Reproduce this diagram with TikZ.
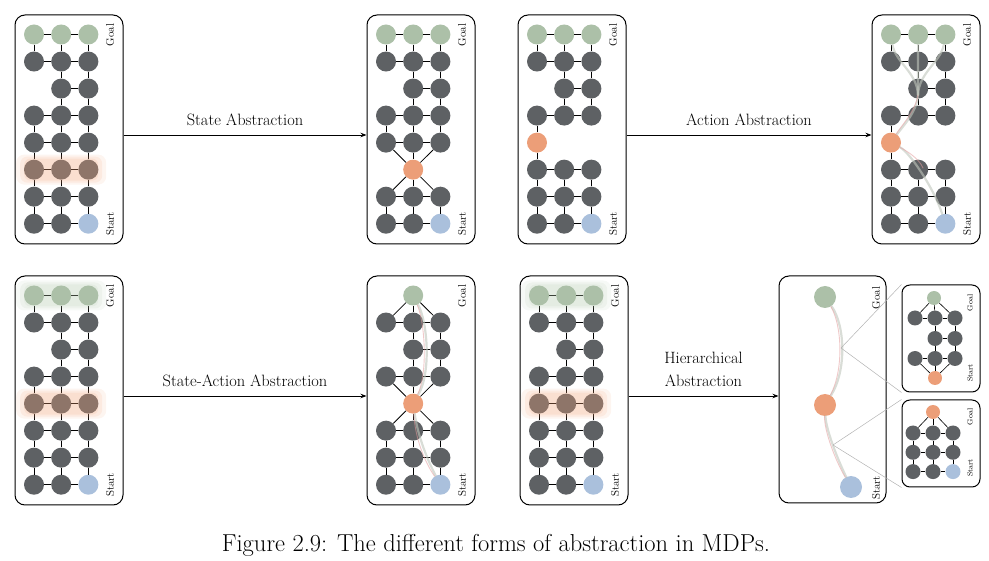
\documentclass[tikz,border=0pt]{standalone}
\usetikzlibrary{arrows.meta}
\definecolor{nodedark}{RGB}{94,97,100}
\definecolor{nodegreen}{RGB}{172,192,168}
\definecolor{nodeblue}{RGB}{170,192,220}
\definecolor{nodeorange}{RGB}{236,158,120}
\definecolor{bandorange}{RGB}{240,160,118}
\definecolor{bandgreen}{RGB}{175,198,170}
\definecolor{optgray}{RGB}{192,198,188}
\definecolor{optpink}{RGB}{226,156,156}
\definecolor{thingray}{RGB}{178,178,178}

% existence test for a grid node (r,c)
\newcommand\setok[3]{%
  \def#1{1}%
  \ifnum#2=2 \ifnum#3=0 \def#1{0}\fi\fi
  \ifnum#2=\gS\relax\ifnum#3=\gK\relax\else\def#1{0}\fi\fi
  \ifnum\gT>-1 \ifnum#2=0 \ifnum#3=\gT\relax\else\def#1{0}\fi\fi\fi}

% #1 prefix, #2 special row, #3 kept column, #4 kept top column (-1 = full), #5 fan
\newcommand\mkgrid[5]{%
  \def\gS{#2}\def\gK{#3}\def\gT{#4}\def\gF{#5}%
  \node[panel, minimum width=108pt, minimum height=229pt] (#1box) at (69,129.5) {};
  \node[lbl] (#1goal) at (110,35) {Goal};
  \node[lbl] (#1start) at (110,224) {Start};
  \foreach \rr in {0,...,7}{\foreach \cl in {0,1,2}{%
    \setok\ok{\rr}{\cl}%
    \ifnum\ok=1
      \ifnum\rr=0 \def\sty{goalc}\else
        \ifnum\rr=\gS\relax\def\sty{orangec}\else
          \ifnum\rr\cl=72 \def\sty{startc}\else\def\sty{dark}\fi\fi\fi
      \node[\sty] (#1-\rr-\cl) at ({34+27.2*\cl},{34.5+27.03*\rr}) {};
    \fi}}
  \foreach \rr in {0,...,7}{\foreach \cl in {0,1}{%
    \pgfmathtruncatemacro\cn{\cl+1}%
    \setok\oa{\rr}{\cl}\setok\ob{\rr}{\cn}%
    \ifnum\oa\ob=11 \draw[edge] (#1-\rr-\cl) -- (#1-\rr-\cn);\fi}}
  \foreach \rr in {0,...,6}{\foreach \cl in {0,1,2}{\foreach \cm in {0,1,2}{%
    \pgfmathtruncatemacro\rn{\rr+1}%
    \setok\oa{\rr}{\cl}\setok\ob{\rn}{\cm}%
    \def\conn{0}%
    \ifnum\cl=\cm\relax\def\conn{1}\fi
    \ifnum\gF=1 \ifnum\rr=\gS\relax\def\conn{1}\fi\ifnum\rn=\gS\relax\def\conn{1}\fi\fi
    \ifnum\gT>-1 \ifnum\rr=0 \def\conn{1}\fi\fi
    \ifnum\oa\ob\conn=111 \draw[edge] (#1-\rr-\cl) -- (#1-\rn-\cm);\fi}}}}

% soft highlight band: #1 colour, #2 row centre y
\newcommand\mkband[2]{%
  \fill[#1, opacity=0.11, rounded corners=8pt] ({61.2-45},{#2-15}) rectangle ({61.2+45},{#2+15});
  \fill[#1, opacity=0.13, rounded corners=7pt] ({61.2-41},{#2-13}) rectangle ({61.2+41},{#2+13});
  \fill[#1, opacity=0.15, rounded corners=6pt] ({61.2-37},{#2-11}) rectangle ({61.2+37},{#2+11});}

\begin{document}
\begin{tikzpicture}[x=1pt,y=-1pt,
  gnode/.style={circle, inner sep=0pt, minimum size=20pt},
  dark/.style={gnode, fill=nodedark},
  goalc/.style={gnode, fill=nodegreen},
  startc/.style={gnode, fill=nodeblue},
  orangec/.style={gnode, fill=nodeorange},
  sdot/.style={circle, inner sep=0pt, minimum size=15pt},
  bdot/.style={circle, inner sep=0pt, minimum size=22pt},
  edge/.style={draw=black, line width=0.8pt},
  sedge/.style={draw=black, line width=0.6pt},
  panel/.style={draw=black, line width=1pt, rounded corners=10pt},
  spanel/.style={draw=black, line width=1pt, rounded corners=8pt},
  lbl/.style={rotate=90, inner sep=0pt, font=\fontsize{11}{13}\selectfont},
  slbl/.style={rotate=90, inner sep=0pt, font=\fontsize{7.5}{9}\selectfont},
  arr/.style={draw=black, line width=0.9pt, -{Stealth[length=6pt,width=4.5pt]}},
  albl/.style={font=\fontsize{16.4}{23}\selectfont, inner sep=0pt},
  opt/.style={draw=optgray, line width=2.2pt, opacity=0.6, line cap=round},
  optp/.style={draw=optpink, line width=0.9pt, opacity=0.55, line cap=round},
  thin/.style={draw=thingray, line width=0.5pt}]
\useasboundingbox (0,0) rectangle (989,561);

% ---- top row ----
\begin{scope}
  \mkgrid{a}{-1}{-1}{-1}{0}
  \mkband{bandorange}{169.6}
\end{scope}
\begin{scope}[shift={(352,0)}]
  \mkgrid{b}{5}{1}{-1}{1}
\end{scope}
\begin{scope}[shift={(503,0)}]
  \mkgrid{c}{4}{0}{-1}{0}
\end{scope}
\begin{scope}[shift={(857,0)}]
  \mkgrid{d}{4}{0}{-1}{0}
  \coordinate (dj) at (61,95);
  \foreach \k/\ca/\cb in {0/{(38,62)}/{(60,72)},1/{(61,60)}/{(61,80)},2/{(84,62)}/{(62,72)}}{
    \draw[opt] (d-0-\k) .. controls \ca and \cb .. (dj);}
  \draw[opt] (dj) .. controls (60,112) and (46,126) .. (d-4-0);
  \draw[optp] (dj) .. controls (58,112) and (44,126) .. (d-4-0);
  \draw[opt] (d-4-0) .. controls (52,152) and (76,186) .. (d-7-2);
  \draw[optp] (d-4-0) .. controls (48,150) and (62,158) .. (66,168);
\end{scope}

% ---- bottom row ----
\begin{scope}[shift={(0,261)}]
  \mkgrid{e}{-1}{-1}{-1}{0}
  \mkband{bandorange}{142.6}
  \mkband{bandgreen}{34.5}
\end{scope}
\begin{scope}[shift={(352,261)}]
  \mkgrid{f}{4}{1}{1}{1}
  \draw[opt] (f-0-1) .. controls (76,62) and (79,112) .. (f-4-1);
  \draw[optp] (f-0-1) .. controls (73,62) and (76,112) .. (f-4-1);
  \draw[opt] (f-4-1) .. controls (66,176) and (76,200) .. (f-7-2);
  \draw[optp] (f-4-1) .. controls (63,176) and (72,200) .. (f-7-2);
\end{scope}
\begin{scope}[shift={(505,261)}]
  \mkgrid{g}{-1}{-1}{-1}{0}
  \mkband{bandorange}{142.6}
  \mkband{bandgreen}{34.5}
\end{scope}

% ---- hierarchical panel ----
\node[panel, minimum width=107pt, minimum height=227pt] (hbox) at (832.5,389.5) {};
\node[bdot, fill=nodegreen] (hgoal) at (825,297) {};
\node[bdot, fill=nodeorange] (horange) at (825,405) {};
\node[bdot, fill=nodeblue] (hstart) at (851,487) {};
\node[lbl] (hgl) at (876,298) {Goal};
\node[lbl] (hsl) at (876,488) {Start};
\draw[opt] (hgoal) .. controls (845,325) and (847,370) .. (horange);
\draw[optp] (hgoal) .. controls (842,325) and (844,370) .. (horange);
\draw[opt] (horange) .. controls (826,430) and (838,460) .. (hstart);
\draw[optp] (horange) .. controls (824,430) and (835,460) .. (hstart);
\coordinate (hj1) at (841,348);
\coordinate (hj2) at (833,445);

% small panel 1
\node[spanel, minimum width=78pt, minimum height=107pt] (sbox1) at (941,338.5) {};
\node[sdot, fill=nodegreen, minimum size=14pt] (s1goal) at (934,298) {};
\node[sdot, fill=nodeorange, minimum size=14pt] (s1start) at (935,378) {};
\foreach \cl in {0,1,2}{
  \node[sdot, fill=nodedark] (s1-0-\cl) at ({915+20*\cl},318) {};
  \node[sdot, fill=nodedark] (s1-2-\cl) at ({915+20*\cl},358.5) {};}
\foreach \cl in {1,2}{
  \node[sdot, fill=nodedark] (s1-1-\cl) at ({915+20*\cl},338.5) {};}
\foreach \a/\b in {s1goal/s1-0-0,s1goal/s1-0-1,s1goal/s1-0-2,
  s1-0-0/s1-0-1,s1-0-1/s1-0-2,s1-0-1/s1-1-1,s1-0-2/s1-1-2,s1-1-1/s1-1-2,
  s1-1-1/s1-2-1,s1-1-2/s1-2-2,s1-2-0/s1-2-1,s1-2-1/s1-2-2,
  s1start/s1-2-0,s1start/s1-2-1,s1start/s1-2-2}{
  \draw[sedge] (\a) -- (\b);}
\node[slbl] (s1gl) at (970,303) {Goal};
\node[slbl] (s1sl) at (970,373) {Start};

% small panel 2
\node[spanel, minimum width=78pt, minimum height=87pt] (sbox2) at (941,443.5) {};
\node[sdot, fill=nodeorange, minimum size=14pt] (s2goal) at (933,412) {};
\foreach \rr in {0,1,2}{\foreach \cl in {0,1,2}{
  \ifnum\rr\cl=22 \def\sty{nodeblue}\else\def\sty{nodedark}\fi
  \node[sdot, fill=\sty] (s2-\rr-\cl) at ({913+20*\cl},{433+19.3*\rr}) {};}}
\foreach \rr in {0,1,2}{
  \draw[sedge] (s2-\rr-0) -- (s2-\rr-1);
  \draw[sedge] (s2-\rr-1) -- (s2-\rr-2);
  \draw[sedge] (s2goal) -- (s2-0-\rr);}
\foreach \cl in {0,1,2}{
  \draw[sedge] (s2-0-\cl) -- (s2-1-\cl);
  \draw[sedge] (s2-1-\cl) -- (s2-2-\cl);}
\node[slbl] (s2gl) at (970,417) {Goal};
\node[slbl] (s2sl) at (970,468) {Start};

% thin zoom lines
\draw[thin] (hj1) -- (sbox1.north west);
\draw[thin] (hj1) -- (sbox1.south west);
\draw[thin] (hj2) -- (sbox2.north west);
\draw[thin] (hj2) -- (sbox2.south west);

% ---- arrows ----
\draw[arr] ([yshift=-5.5pt]abox.east) -- node[albl, midway, yshift=15pt] {State Abstraction} ([yshift=-5.5pt]bbox.west);
\draw[arr] ([yshift=-5.5pt]cbox.east) -- node[albl, midway, yshift=15pt] {Action Abstraction} ([yshift=-5.5pt]dbox.west);
\draw[arr] ([yshift=-5.5pt]ebox.east) -- node[albl, midway, yshift=15pt] {State-Action Abstraction} ([yshift=-5.5pt]fbox.west);
\draw[arr] ([yshift=-5.5pt]gbox.east) -- node[albl, midway, yshift=27pt, align=center] {Hierarchical\\Abstraction} ([yshift=-5.5pt]gbox.east -| hbox.west);

% ---- caption ----
\node[font=\fontsize{24.5}{28}\selectfont, inner sep=0pt] (cap) at (496,545) {Figure 2.9: The different forms of abstraction in MDPs.};
\end{tikzpicture}
\end{document}
